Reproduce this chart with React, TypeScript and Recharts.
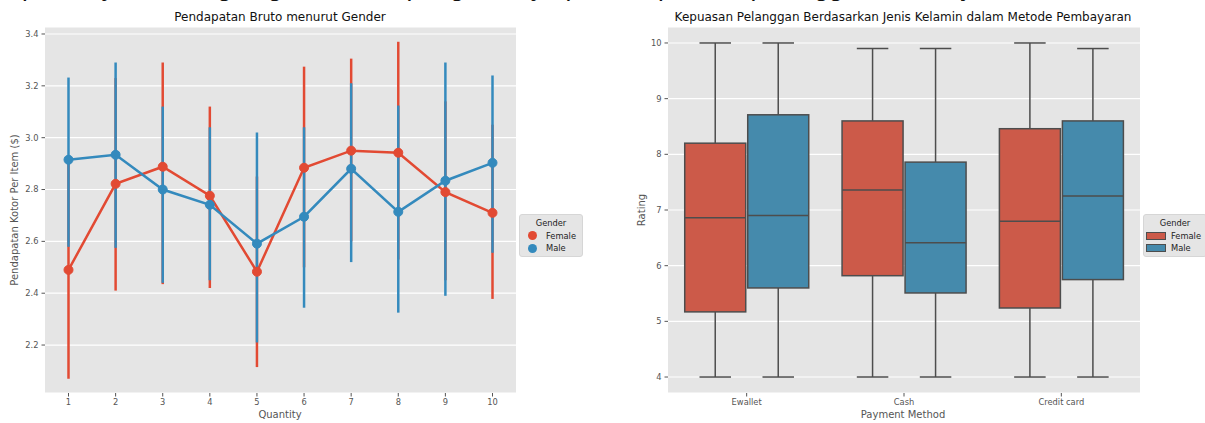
import React from 'react';
import { ComposedChart, Line, ErrorBar, Bar, XAxis, YAxis, CartesianGrid } from 'recharts';

// left chart: mean gross income per item by quantity, with confidence intervals
const quantities = ['1', '2', '3', '4', '5', '6', '7', '8', '9', '10'];
const femaleMean = [2.49, 2.822, 2.888, 2.776, 2.483, 2.884, 2.95, 2.942, 2.79, 2.71];
const femaleLow = [2.07, 2.41, 2.435, 2.42, 2.115, 2.5, 2.6, 2.53, 2.45, 2.378];
const femaleHigh = [2.9, 3.23, 3.29, 3.12, 2.85, 3.274, 3.305, 3.37, 3.14, 3.05];
const maleMean = [2.915, 2.934, 2.8, 2.741, 2.591, 2.695, 2.88, 2.714, 2.834, 2.903];
const maleLow = [2.579, 2.575, 2.44, 2.45, 2.21, 2.344, 2.52, 2.325, 2.39, 2.556];
const maleHigh = [3.232, 3.29, 3.12, 3.04, 3.02, 3.04, 3.21, 3.124, 3.29, 3.24];
const incomeTicks = [2.2, 2.4, 2.6, 2.8, 3.0, 3.2, 3.4];

// right chart: rating box stats by payment method
const methods = ['Ewallet', 'Cash', 'Credit card'];
const femaleMin = [4, 4, 4];
const femaleQ1 = [5.17, 5.82, 5.24];
const femaleMedian = [6.86, 7.36, 6.8];
const femaleQ3 = [8.2, 8.6, 8.46];
const femaleMax = [10, 9.9, 10];
const maleMin = [4, 4, 4];
const maleQ1 = [5.6, 5.51, 5.75];
const maleMedian = [6.9, 6.41, 7.25];
const maleQ3 = [8.71, 7.86, 8.6];
const maleMax = [10, 9.9, 9.9];
const ratingTicks = [4, 5, 6, 7, 8, 9, 10];

const RED = '#E24A33';
const BLUE = '#348ABD';
const BOX_RED = '#CC5A49';
const BOX_BLUE = '#458AAC';
const EDGE = '#4d4d4d';
const BG = '#E5E5E5';
const font = '"DejaVu Sans", sans-serif';

const incomeData = quantities.map((q, i) => ({
  q,
  female: femaleMean[i],
  femaleErr: [femaleMean[i] - femaleLow[i], femaleHigh[i] - femaleMean[i]],
  male: maleMean[i],
  maleErr: [maleMean[i] - maleLow[i], maleHigh[i] - maleMean[i]],
}));

const ratingData = methods.map((m, i) => ({
  m,
  fBox: [femaleQ1[i], femaleQ3[i]],
  fMin: femaleMin[i], fQ1: femaleQ1[i], fMed: femaleMedian[i], fQ3: femaleQ3[i], fMax: femaleMax[i],
  mBox: [maleQ1[i], maleQ3[i]],
  mMin: maleMin[i], mQ1: maleQ1[i], mMed: maleMedian[i], mQ3: maleQ3[i], mMax: maleMax[i],
}));

const tickStyle = { fill: '#555', fontSize: 8.3, fontFamily: font };

const makeBox = (p: string) => (props: any) => {
  const { x, y, width, height, fill, payload } = props;
  const lo = payload[p + 'Min'];
  const q1 = payload[p + 'Q1'];
  const med = payload[p + 'Med'];
  const q3 = payload[p + 'Q3'];
  const hi = payload[p + 'Max'];
  const top = Math.min(y, y + height);
  const h = Math.abs(height);
  const k = h / (q3 - q1);
  const bottom = top + h;
  const cx = x + width / 2;
  const yHi = top - (hi - q3) * k;
  const yLo = bottom + (q1 - lo) * k;
  const yMed = top + (q3 - med) * k;
  const cap = width / 4;
  return (
    <g>
      <line x1={cx} x2={cx} y1={yHi} y2={top} stroke={EDGE} strokeWidth={1.5} />
      <line x1={cx} x2={cx} y1={bottom} y2={yLo} stroke={EDGE} strokeWidth={1.5} />
      <line x1={cx - cap} x2={cx + cap} y1={yHi} y2={yHi} stroke={EDGE} strokeWidth={1.5} />
      <line x1={cx - cap} x2={cx + cap} y1={yLo} y2={yLo} stroke={EDGE} strokeWidth={1.5} />
      <rect x={x + 1} y={top} width={width - 2} height={h} fill={fill} stroke={EDGE} strokeWidth={1.5} />
      <line x1={x + 1} x2={x + width - 1} y1={yMed} y2={yMed} stroke={EDGE} strokeWidth={1.5} />
    </g>
  );
};

const abs = (left: number, top: number, extra: any = {}) => ({
  position: 'absolute' as const, left, top, fontFamily: font, whiteSpace: 'nowrap' as const, ...extra,
});

function LegendBox({ left, kind }: { left: number; kind: 'dot' | 'rect' }) {
  return (
    <div style={abs(left, 214, { width: 62, height: 41, background: BG, border: '1px solid #d6d6d6', borderRadius: 3, fontSize: 8.3, color: '#222' })}>
      <div style={{ position: 'absolute', top: 3, width: '100%', textAlign: 'center' }}>Gender</div>
      {[['Female', kind === 'dot' ? RED : BOX_RED], ['Male', kind === 'dot' ? BLUE : BOX_BLUE]].map(([name, c], i) => (
        <div key={name} style={{ position: 'absolute', top: 15 + i * 12.5, left: 0, height: 11, display: 'flex', alignItems: 'center' }}>
          {kind === 'dot' ? (
            <span style={{ display: 'inline-block', width: 9, height: 9, borderRadius: 5, background: c, marginLeft: 8, marginRight: 9 }} />
          ) : (
            <span style={{ display: 'inline-block', width: 18, height: 6, background: c, border: '1px solid ' + EDGE, marginLeft: 2, marginRight: 5 }} />
          )}
          <span>{name}</span>
        </div>
      ))}
    </div>
  );
}

export default function App() {
  return (
    <div style={{ position: 'fixed', left: 0, top: 0, width: 1205, height: 423, background: '#fff', overflow: 'hidden' }}>
      {/* heading above the figure, only its descenders show */}
      <div style={abs(22, -26, { fontFamily: '"Liberation Sans", Arial, sans-serif', fontSize: 26, lineHeight: '26px', color: '#111' })}>
        pembayaran dengan gender dan pengaruhnya pada kepuasan pelanggan sesuai jenis kelamin
      </div>

      {/* left: point plot */}
      <div style={abs(0, 0)}>
        <ComposedChart width={520} height={423} data={incomeData} margin={{ top: 27, right: 4, bottom: 0, left: 0 }}>
          <CartesianGrid vertical={false} stroke="#fff" strokeWidth={1.2} fill={BG} />
          <XAxis dataKey="q" scale="point" padding={{ left: 23.5, right: 23.5 }} axisLine={false} tickLine={{ stroke: '#555' }} tickSize={3.5} tickMargin={3} tick={tickStyle} height={30} interval={0} />
          <YAxis domain={[2.015, 3.427]} ticks={incomeTicks} allowDataOverflow axisLine={false} tickLine={{ stroke: '#555' }} tickSize={3.5} tickMargin={3} tick={tickStyle} width={45} tickFormatter={(v: number) => v.toFixed(1)} />
          <Line dataKey="female" type="linear" stroke={RED} strokeWidth={2.5} dot={{ r: 4.5, fill: RED, stroke: RED, strokeWidth: 1 }} activeDot={false} isAnimationActive={false}>
            <ErrorBar dataKey="femaleErr" direction="y" width={0} stroke={RED} strokeWidth={2.5} />
          </Line>
          <Line dataKey="male" type="linear" stroke={BLUE} strokeWidth={2.5} dot={{ r: 4.5, fill: BLUE, stroke: BLUE, strokeWidth: 1 }} activeDot={false} isAnimationActive={false}>
            <ErrorBar dataKey="maleErr" direction="y" width={0} stroke={BLUE} strokeWidth={2.5} />
          </Line>
        </ComposedChart>
      </div>
      <div style={abs(280, 10, { transform: 'translateX(-50%)', fontSize: 12, color: '#111' })}>Pendapatan Bruto menurut Gender</div>
      <div style={abs(280, 409, { transform: 'translateX(-50%)', fontSize: 10, color: '#555' })}>Quantity</div>
      <div style={abs(14, 210, { transform: 'translate(-50%, -50%) rotate(-90deg)', fontSize: 10, color: '#555' })}>Pendapatan Kotor Per Item ($)</div>
      <LegendBox left={519} kind="dot" />

      {/* right: box plot */}
      <div style={abs(600, 0)}>
        <ComposedChart width={545} height={423} data={ratingData} margin={{ top: 27, right: 5, bottom: 0, left: 0 }} barCategoryGap="10%" barGap={0}>
          <CartesianGrid vertical={false} stroke="#fff" strokeWidth={1.2} fill={BG} />
          <XAxis dataKey="m" axisLine={false} tickLine={{ stroke: '#555' }} tickSize={3.5} tickMargin={3} tick={tickStyle} height={30} />
          <YAxis domain={[3.713, 10.287]} ticks={ratingTicks} allowDataOverflow axisLine={false} tickLine={{ stroke: '#555' }} tickSize={3.5} tickMargin={3} tick={tickStyle} width={68} />
          <Bar dataKey="fBox" fill={BOX_RED} shape={makeBox('f')} isAnimationActive={false} />
          <Bar dataKey="mBox" fill={BOX_BLUE} shape={makeBox('m')} isAnimationActive={false} />
        </ComposedChart>
      </div>
      <div style={abs(903, 10, { transform: 'translateX(-50%)', fontSize: 12, color: '#111' })}>Kepuasan Pelanggan Berdasarkan Jenis Kelamin dalam Metode Pembayaran</div>
      <div style={abs(903, 409, { transform: 'translateX(-50%)', fontSize: 10, color: '#555' })}>Payment Method</div>
      <div style={abs(641, 210, { transform: 'translate(-50%, -50%) rotate(-90deg)', fontSize: 10, color: '#555' })}>Rating</div>
      <LegendBox left={1143} kind="rect" />
    </div>
  );
}
